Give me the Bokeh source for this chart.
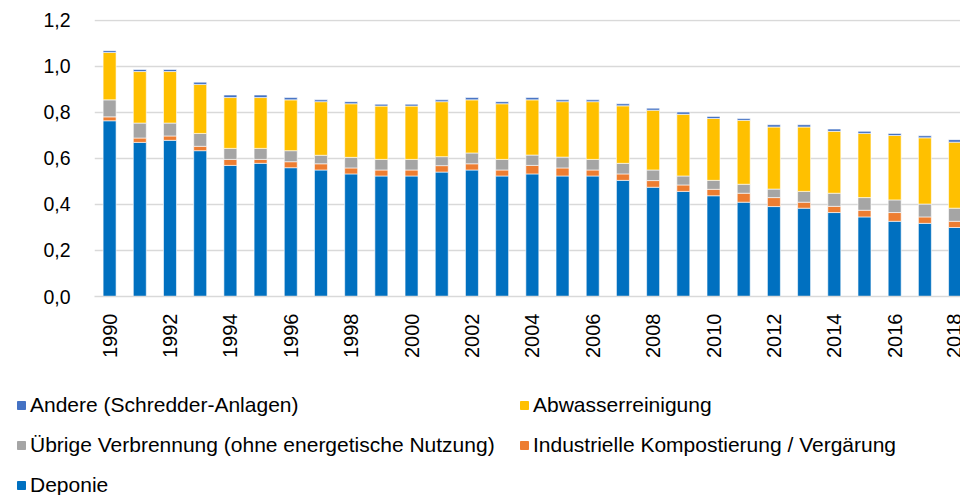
from bokeh.plotting import figure
from bokeh.models import FixedTicker, CustomJSTickFormatter, Legend, LegendItem, ColumnDataSource
from bokeh.layouts import column
from bokeh.embed import file_html
from bokeh.resources import INLINE
import math

years = list(range(1990, 2019))
deponie = [0.764, 0.670, 0.679, 0.634, 0.570, 0.579, 0.560, 0.550, 0.533, 0.524,
           0.524, 0.541, 0.550, 0.524, 0.533, 0.524, 0.524, 0.505, 0.475, 0.457,
           0.438, 0.410, 0.391, 0.384, 0.365, 0.346, 0.327, 0.318, 0.300]
kompost = [0.017, 0.019, 0.019, 0.019, 0.026, 0.017, 0.026, 0.027, 0.026, 0.026,
           0.026, 0.028, 0.027, 0.026, 0.037, 0.035, 0.026, 0.028, 0.029, 0.028,
           0.028, 0.039, 0.039, 0.026, 0.027, 0.029, 0.038, 0.028, 0.027]
verbrennung = [0.074, 0.065, 0.056, 0.056, 0.048, 0.048, 0.048, 0.037, 0.046, 0.046,
               0.046, 0.039, 0.047, 0.046, 0.045, 0.047, 0.046, 0.046, 0.046, 0.039,
               0.039, 0.039, 0.037, 0.047, 0.057, 0.055, 0.055, 0.056, 0.057]
abwasser = [0.206, 0.224, 0.224, 0.213, 0.221, 0.221, 0.221, 0.233, 0.233, 0.232,
            0.232, 0.239, 0.231, 0.242, 0.240, 0.241, 0.251, 0.250, 0.260, 0.268,
            0.269, 0.278, 0.270, 0.280, 0.269, 0.279, 0.280, 0.288, 0.287]
andere = [0.008, 0.009, 0.009, 0.010, 0.011, 0.011, 0.010, 0.008, 0.009, 0.008,
          0.008, 0.008, 0.010, 0.009, 0.010, 0.008, 0.008, 0.009, 0.009, 0.010,
          0.009, 0.008, 0.010, 0.010, 0.010, 0.009, 0.009, 0.009, 0.011]

series_keys = ["deponie", "kompost", "verbrennung", "abwasser", "andere"]
series_labels = ["Deponie", "Industrielle Kompostierung / Vergärung",
                 "Übrige Verbrennung (ohne energetische Nutzung)", "Abwasserreinigung",
                 "Andere (Schredder-Anlagen)"]
colors = ["#0070C0", "#ED7D31", "#A5A5A5", "#FFC000", "#4472C4"]
y_ticks = [0.0, 0.2, 0.4, 0.6, 0.8, 1.0, 1.2]
x_ticks = list(range(1990, 2019, 2))

source = ColumnDataSource(dict(year=years, deponie=deponie, kompost=kompost,
                               verbrennung=verbrennung, abwasser=abwasser, andere=andere))

font = "Liberation Sans"
W, H1, H2 = 960, 360, 135

p = figure(width=W, height=H1, output_backend="svg", toolbar_location=None,
           x_range=(1989.5, 2018.18), y_range=(0, 1.2 * 278 / 277),
           min_border_left=94, min_border_right=0, min_border_top=19,
           min_border_bottom=H1 - 297)
p.outline_line_color = None
p.background_fill_color = "white"

renderers = p.vbar_stack(series_keys, x="year", width=0.43, source=source,
                         color=colors, line_color="white", line_width=0.6)

p.xgrid.grid_line_color = None
p.ygrid.ticker = FixedTicker(ticks=y_ticks)
p.ygrid.grid_line_color = "#D9D9D9"
p.ygrid.grid_line_width = 1.5

p.yaxis.ticker = FixedTicker(ticks=y_ticks)
p.yaxis.formatter = CustomJSTickFormatter(code="return tick.toFixed(1).replace('.', ',');")
p.yaxis.axis_line_color = None
p.yaxis.major_tick_line_color = None
p.yaxis.minor_tick_line_color = None
p.yaxis.major_label_standoff = 18
p.yaxis.major_label_text_font = font
p.yaxis.major_label_text_font_size = "19.5px"
p.yaxis.major_label_text_color = "#000000"

p.xaxis.ticker = FixedTicker(ticks=x_ticks)
p.xaxis.formatter = CustomJSTickFormatter(code="return tick.toFixed(0);")
p.xaxis.axis_line_color = "#D9D9D9"
p.xaxis.axis_line_width = 1.5
p.xaxis.major_tick_line_color = None
p.xaxis.minor_tick_line_color = None
p.xaxis.major_label_orientation = math.pi / 2
p.xaxis.major_label_standoff = 11
p.xaxis.major_label_text_font = font
p.xaxis.major_label_text_font_size = "20px"
p.xaxis.major_label_text_color = "#000000"

# legend panel below the chart
p2 = figure(width=W, height=H2, output_backend="svg", toolbar_location=None,
            x_range=(0, 1), y_range=(0, 1), min_border=0)
p2.frame_align = False
p2.outline_line_color = None
p2.axis.visible = False
p2.grid.visible = False
# swatch renderers (their single bar lies outside the visible range; only the legend shows)
swatches = [p2.vbar(x=[-10], top=[-10], width=0.1, color=c) for c in colors]

order = [4, 3, 2, 1, 0]
items = [LegendItem(label=series_labels[i], renderers=[swatches[i]]) for i in order]
legend = Legend(items=items, location=(16, -2), orientation="horizontal", ncols=2,
                padding=0, margin=0, spacing=16, glyph_width=10, glyph_height=10,
                label_standoff=4, label_height=20, label_width=473, label_text_font=font,
                label_text_font_size="21px", label_text_color="#000000",
                border_line_color=None, background_fill_alpha=0)
p2.add_layout(legend, "center")

open("out.html", "w").write(file_html(column(p, p2, spacing=0), INLINE))
